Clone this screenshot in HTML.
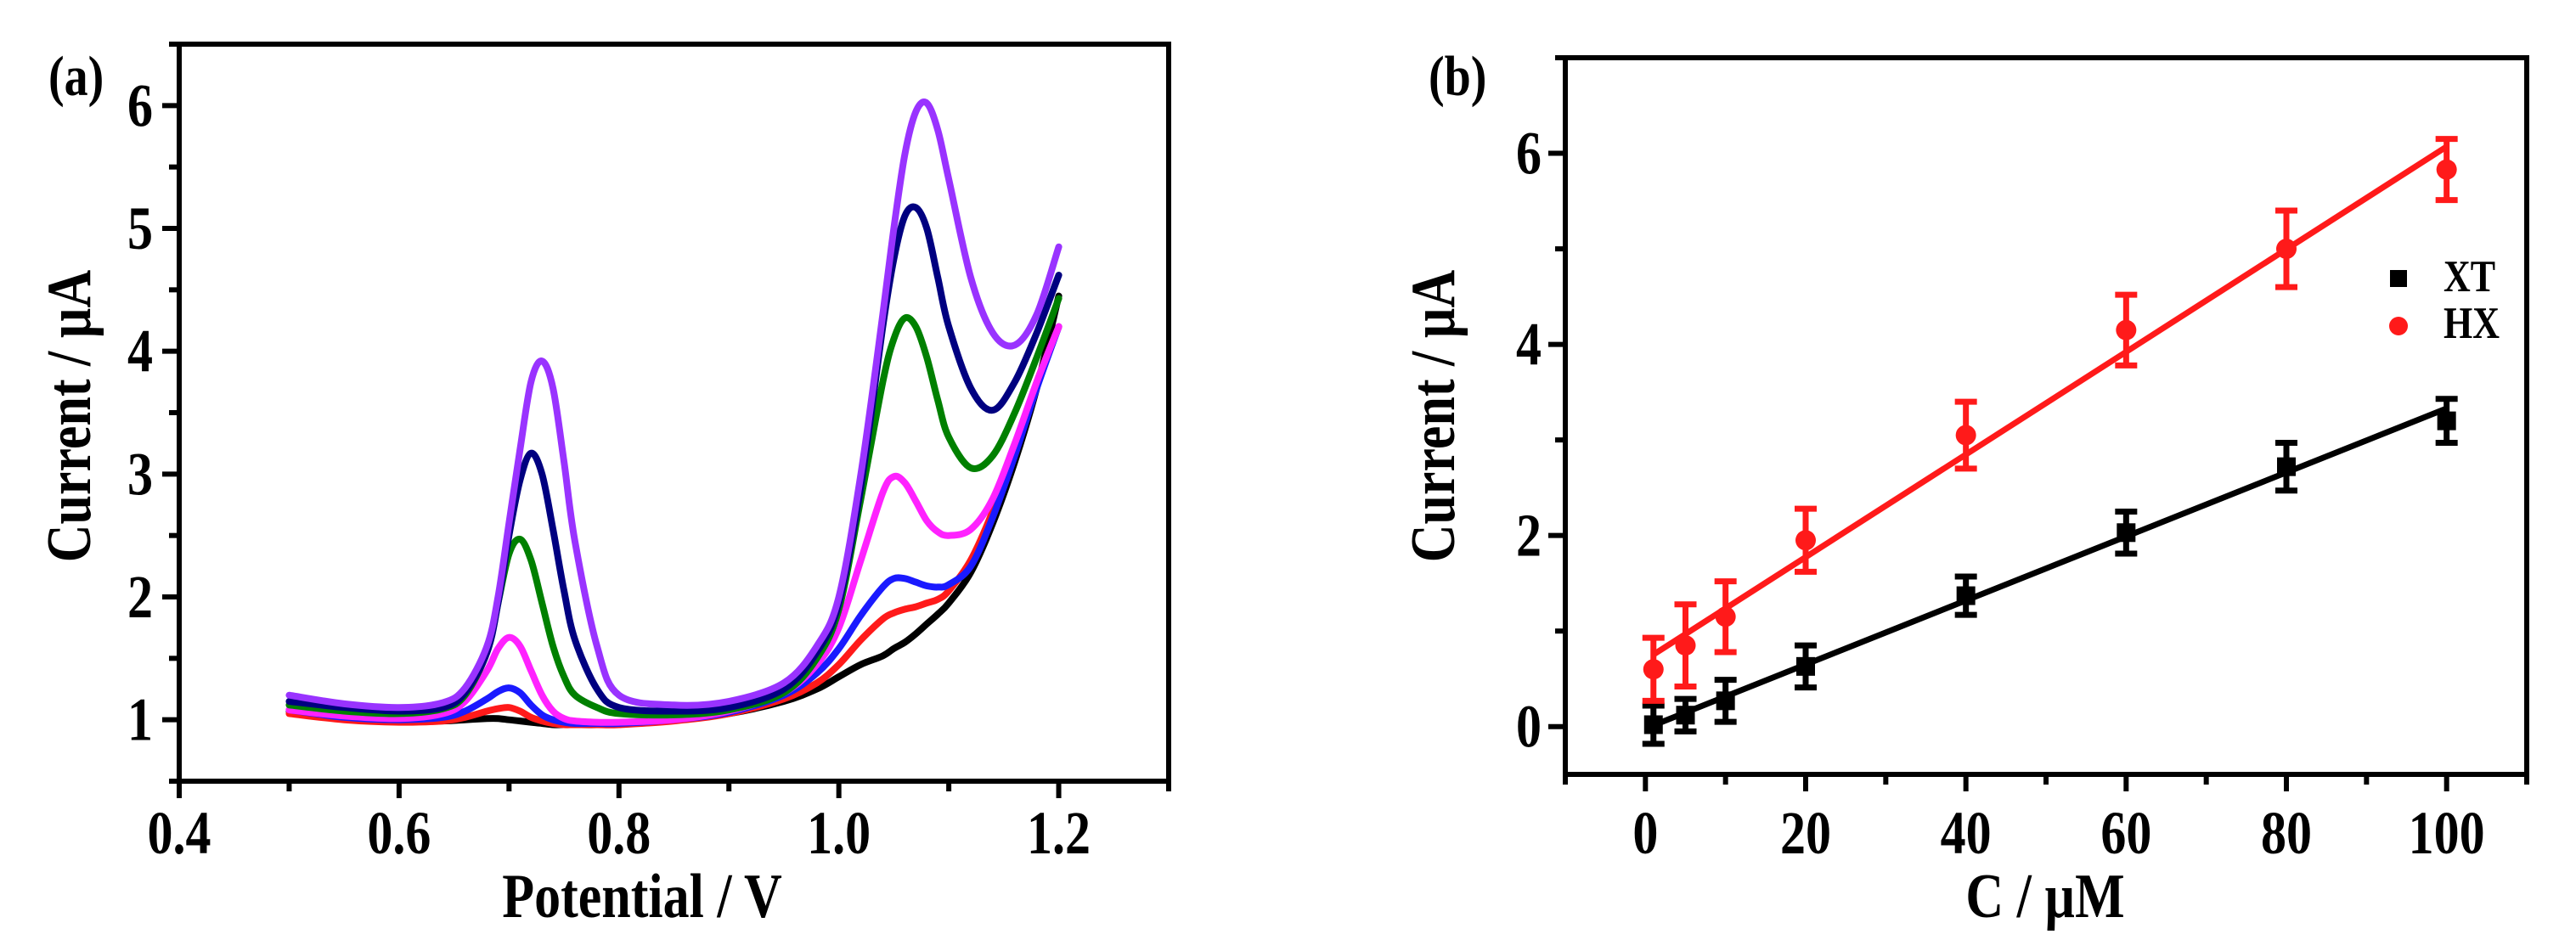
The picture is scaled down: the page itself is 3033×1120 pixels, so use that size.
<!DOCTYPE html>
<html><head><meta charset="utf-8"><style>
html,body{margin:0;padding:0;background:#fff;}
svg{display:block;}
text{font-family:"Liberation Serif",serif;font-weight:bold;fill:#000;}
</style></head><body>
<svg id="fig" width="3033" height="1120" viewBox="0 0 3033 1120" xmlns="http://www.w3.org/2000/svg">
<g id="pa"></g>
<g id="pb"></g>
</svg>
<script>
// ---------- Panel (a) data ----------
const potentials = [0.50,0.55,0.60,0.64,0.66,0.68,0.69,0.70,0.71,0.72,0.73,0.74,0.75,0.76,0.78,0.80,0.85,0.90,0.95,0.98,1.00,1.02,1.04,1.05,1.06,1.07,1.08,1.09,1.10,1.12,1.14,1.16,1.18,1.20];
const curveBlack  = [1.07,1.02,0.99,0.99,1.0,1.01,1.01,1.0,0.99,0.98,0.97,0.96,0.96,0.96,0.96,0.97,1.0,1.05,1.15,1.25,1.35,1.45,1.52,1.58,1.63,1.70,1.78,1.86,1.95,2.2,2.6,3.1,3.7,4.45];
const curveRed    = [1.05,1.0,0.98,0.99,1.02,1.07,1.09,1.1,1.07,1.02,0.99,0.97,0.96,0.96,0.96,0.96,0.99,1.05,1.17,1.3,1.45,1.65,1.82,1.87,1.9,1.92,1.95,1.98,2.05,2.3,2.7,3.2,3.75,4.2];
const curveBlue   = [1.08,1.02,1.0,1.02,1.07,1.17,1.23,1.26,1.22,1.12,1.04,1.0,0.98,0.97,0.97,0.97,1.0,1.06,1.2,1.38,1.58,1.85,2.08,2.15,2.15,2.12,2.09,2.08,2.1,2.25,2.65,3.15,3.7,4.2];
const curveMagenta= [1.08,1.03,1.01,1.05,1.15,1.40,1.58,1.67,1.60,1.40,1.2,1.07,1.01,0.99,0.98,0.98,1.0,1.07,1.22,1.45,1.75,2.3,2.85,2.98,2.93,2.78,2.62,2.53,2.5,2.55,2.8,3.25,3.75,4.2];
const curveGreen  = [1.12,1.07,1.05,1.09,1.2,1.55,1.95,2.35,2.47,2.3,1.95,1.6,1.35,1.2,1.1,1.05,1.04,1.08,1.22,1.5,1.9,2.8,3.75,4.1,4.27,4.2,3.95,3.6,3.3,3.05,3.15,3.5,3.95,4.43];
const curveNavy   = [1.15,1.1,1.07,1.1,1.22,1.55,1.95,2.5,2.95,3.17,3.0,2.55,2.05,1.65,1.25,1.1,1.07,1.1,1.25,1.55,1.95,2.9,4.2,4.75,5.1,5.17,5.0,4.6,4.2,3.7,3.52,3.75,4.15,4.62];
const curvePurple = [1.2,1.13,1.1,1.14,1.26,1.6,2.0,2.6,3.2,3.75,3.92,3.7,3.1,2.45,1.6,1.2,1.12,1.15,1.3,1.6,2.0,3.0,4.3,5.0,5.6,5.95,6.02,5.8,5.4,4.6,4.15,4.05,4.3,4.85];
const aXTicks = [0.4,0.6,0.8,1.0,1.2];
const aXTickLabels = ["0.4","0.6","0.8","1.0","1.2"];
const aYTicks = [1,2,3,4,5,6];
const aYTickLabels = ["1","2","3","4","5","6"];

// ---------- Panel (b) data ----------
const conc = [1,5,10,20,40,60,80,100];
const xtVals = [0.02,0.12,0.27,0.63,1.37,2.03,2.72,3.2];
const xtErr  = [0.2,0.17,0.22,0.22,0.2,0.22,0.25,0.23];
const hxVals = [0.6,0.85,1.15,1.95,3.05,4.15,5.0,5.83];
const hxErr  = [0.33,0.43,0.37,0.33,0.35,0.37,0.4,0.32];
const xtFit = [-0.02,0.0335];
const hxFit = [0.7,0.0537];
const bXTicks = [0,20,40,60,80,100];
const bXTickLabels = ["0","20","40","60","80","100"];
const bYTicks = [0,2,4,6];
const bYTickLabels = ["0","2","4","6"];

const NS="http://www.w3.org/2000/svg";
function mk(parent,tag,attrs,txt){const e=document.createElementNS(NS,tag);for(const k in attrs)e.setAttribute(k,attrs[k]);if(txt!==undefined)e.textContent=txt;parent.appendChild(e);return e;}

const ax={x0:211,x1:1376,d0:0.4,d1:1.3}, ay={y0:920,y1:52,d0:0.5,d1:6.5};
const axX=v=>ax.x0+(v-ax.d0)/(ax.d1-ax.d0)*(ax.x1-ax.x0);
const axY=v=>ay.y0+(v-ay.d0)/(ay.d1-ay.d0)*(ay.y1-ay.y0);
const bx={x0:1843,x1:2975,d0:-10,d1:110}, by={y0:912,y1:68,d0:-0.5,d1:7};
const bX=v=>bx.x0+(v-bx.d0)/(bx.d1-bx.d0)*(bx.x1-bx.x0);
const bY=v=>by.y0+(v-by.d0)/(by.d1-by.d0)*(by.y1-by.y0);

function smooth(pts){
  let d=`M${pts[0][0]},${pts[0][1]}`;
  for(let i=0;i<pts.length-1;i++){
    const p0=pts[Math.max(0,i-1)],p1=pts[i],p2=pts[i+1],p3=pts[Math.min(pts.length-1,i+2)];
    const c1=[p1[0]+(p2[0]-p0[0])/6,p1[1]+(p2[1]-p0[1])/6];
    const c2=[p2[0]-(p3[0]-p1[0])/6,p2[1]-(p3[1]-p1[1])/6];
    d+=` C${c1[0].toFixed(1)},${c1[1].toFixed(1)} ${c2[0].toFixed(1)},${c2[1].toFixed(1)} ${p2[0].toFixed(1)},${p2[1].toFixed(1)}`;
  }
  return d;
}
// tall text helper (reference glyphs are vertically stretched)
function ttext(parent,x,y,size,anchor,str,rot){
  const tr = rot ? `translate(${x},${y}) rotate(-90) scale(1,1.2)` : `translate(${x},${y}) scale(1,1.2)`;
  return mk(parent,'text',{x:0,y:0,'font-size':size,'text-anchor':anchor,transform:tr},str);
}

// ----- Panel a -----
const pa=document.getElementById('pa');
const series=[[curveBlack,"#000000","curve-black"],[curveRed,"#ff1a1a","curve-red"],[curveBlue,"#1a1aff","curve-blue"],[curveMagenta,"#ff22ff","curve-magenta"],[curveGreen,"#008000","curve-green"],[curveNavy,"#000080","curve-navy"],[curvePurple,"#9933ff","curve-purple"]];
series.forEach(s=>{
  const p=mk(pa,'path',{d:smooth(potentials.map((v,i)=>[axX(v),axY(s[0][i])])),fill:'none',stroke:s[1],'stroke-width':8,'stroke-linejoin':'round','stroke-linecap':'round'});
  
  
});
let fr=mk(pa,'rect',{x:ax.x0,y:ay.y1,width:ax.x1-ax.x0,height:ay.y0-ay.y1,fill:'none',stroke:'#000','stroke-width':6});


for(let v=0.4;v<=1.301;v+=0.1){const x=axX(v);const major=aXTicks.some(t=>Math.abs(t-v)<1e-6);
  const t=mk(pa,'line',{x1:x,x2:x,y1:ay.y0,y2:ay.y0+(major?20:12),stroke:'#000','stroke-width':6});
  
  }
for(let v=0.5;v<=6.501;v+=0.5){const y=axY(v);const major=Math.abs(v-Math.round(v))<1e-6;
  const t=mk(pa,'line',{x1:ax.x0,x2:ax.x0-(major?20:12),y1:y,y2:y,stroke:'#000','stroke-width':6});
  
  }
aXTicks.forEach((v,i)=>{const t=ttext(pa,axX(v),1005,60,'middle',aXTickLabels[i]);
  
  });
aYTicks.forEach((v,i)=>{const t=ttext(pa,180,axY(v)+24,60,'end',aYTickLabels[i]);
  
  });
let tt=ttext(pa,756,1080,62,'middle','Potential / V');


tt=ttext(pa,106,490,62,'middle','Current / µA',true);


tt=ttext(pa,57,112,56,'start','(a)');



// ----- Panel b -----
const pb=document.getElementById('pb');
fr=mk(pb,'rect',{x:bx.x0,y:by.y1,width:bx.x1-bx.x0,height:by.y0-by.y1,fill:'none',stroke:'#000','stroke-width':6});


for(let v=-10;v<=110;v+=10){const x=bX(v);const major=bXTicks.includes(v);
  const t=mk(pb,'line',{x1:x,x2:x,y1:by.y0,y2:by.y0+(major?20:12),stroke:'#000','stroke-width':6});
  
  }
for(let v=0;v<=7;v+=1){const y=bY(v);const major=bYTicks.includes(v);
  const t=mk(pb,'line',{x1:bx.x0,x2:bx.x0-(major?20:12),y1:y,y2:y,stroke:'#000','stroke-width':6});
  
  }
bXTicks.forEach((v,i)=>{const t=ttext(pb,bX(v),1005,60,'middle',bXTickLabels[i]);
  
  });
bYTicks.forEach((v,i)=>{const t=ttext(pb,1815,bY(v)+24,60,'end',bYTickLabels[i]);
  
  });
tt=ttext(pb,2408,1080,62,'middle','C / µM');


tt=ttext(pb,1712,490,62,'middle','Current / µA',true);


tt=ttext(pb,1682,112,56,'start','(b)');



function drawSeries(vals,errs,fit,color,name,square){
  const ln=mk(pb,'line',{x1:bX(conc[0]),y1:bY(fit[0]+fit[1]*conc[0]),x2:bX(conc[conc.length-1]),y2:bY(fit[0]+fit[1]*conc[conc.length-1]),stroke:color,'stroke-width':7});
  
  
  conc.forEach((c,i)=>{
    const x=bX(c),y=bY(vals[i]),yt=bY(vals[i]+errs[i]),yb=bY(vals[i]-errs[i]);
    const g=mk(pb,'g',{stroke:color,'stroke-width':7});
    
    
    mk(g,'line',{x1:x,x2:x,y1:yt,y2:yb});
    mk(g,'line',{x1:x-13,x2:x+13,y1:yt,y2:yt});
    mk(g,'line',{x1:x-13,x2:x+13,y1:yb,y2:yb});
    const m=square?mk(pb,'rect',{x:x-11,y:y-11,width:22,height:22,fill:color}):mk(pb,'circle',{cx:x,cy:y,r:12,fill:color});
    
    
  });
}
drawSeries(xtVals,xtErr,xtFit,'#000','xt',true);
drawSeries(hxVals,hxErr,hxFit,'#ff1a1a','hx',false);

const lg=mk(pb,'g',{});


let le=mk(lg,'rect',{x:2814,y:318,width:20,height:20,fill:'#000'});


le=ttext(lg,2877,343,44,'start','XT');


le=mk(lg,'circle',{cx:2824,cy:384,r:11,fill:'#ff1a1a'});


le=ttext(lg,2877,398,44,'start','HX');


</script>
</body></html>
